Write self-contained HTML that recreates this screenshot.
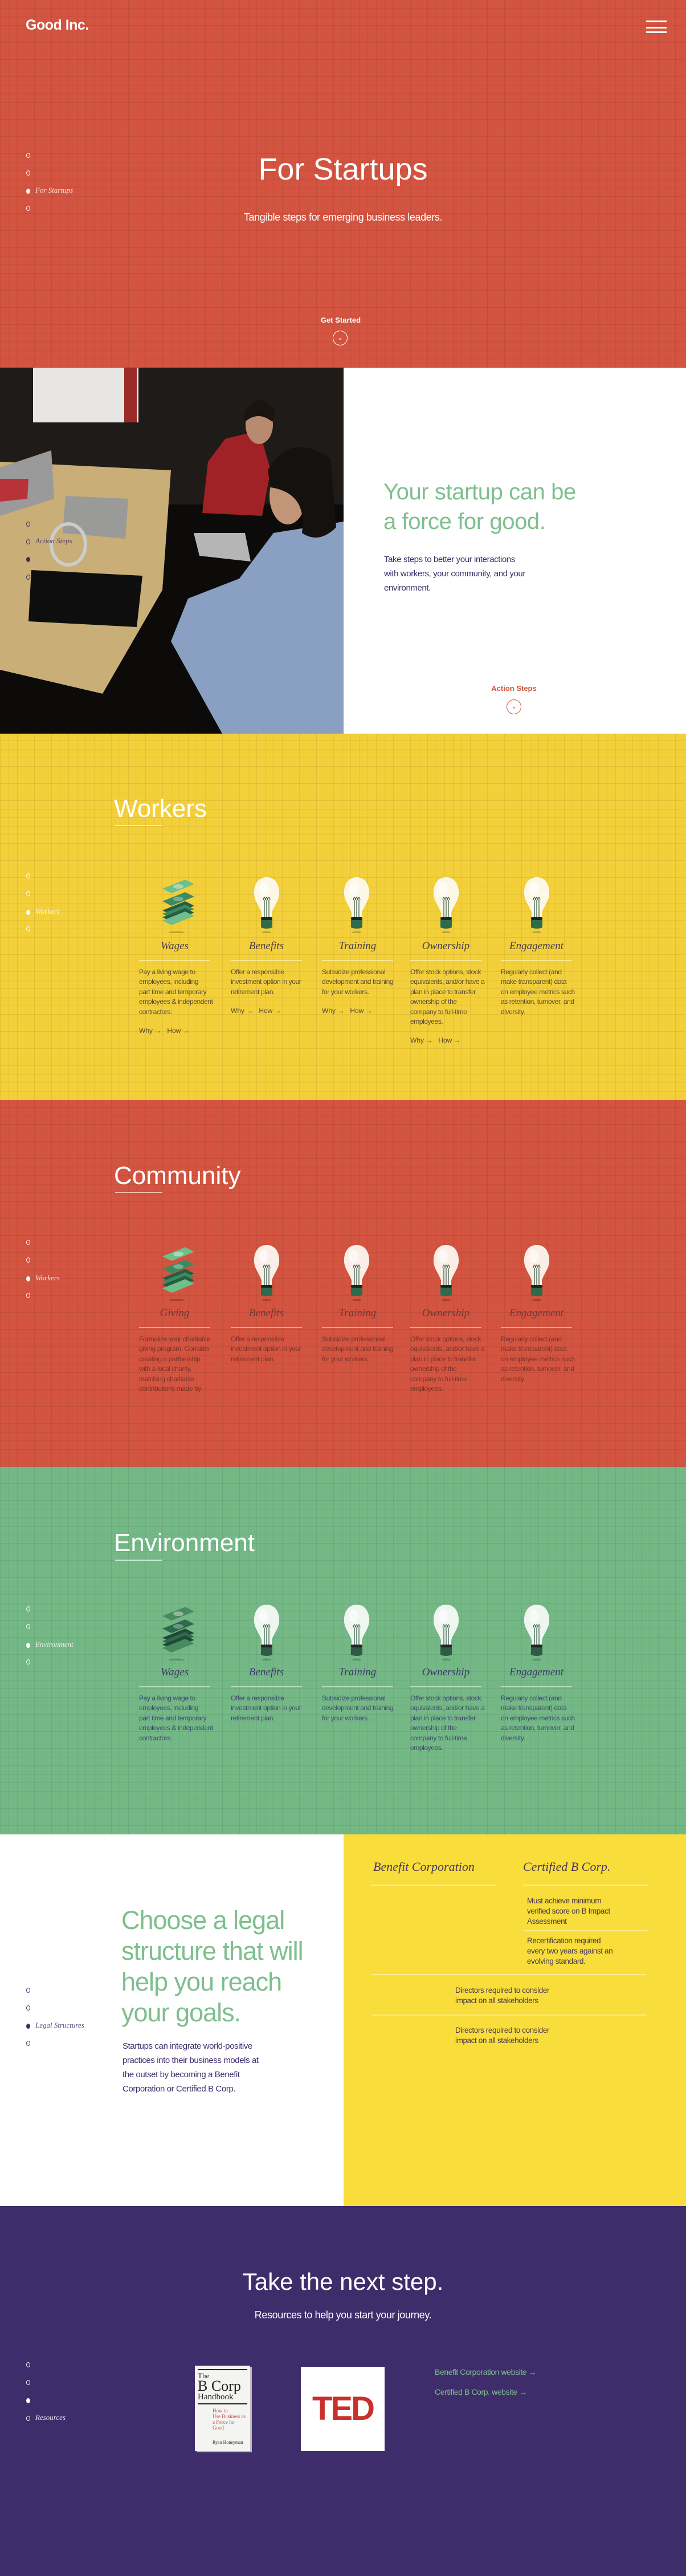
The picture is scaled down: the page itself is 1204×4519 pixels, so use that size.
<!DOCTYPE html>
<html><head><meta charset="utf-8">
<style>
*{margin:0;padding:0;box-sizing:border-box}
body{width:1204px;height:4519px;position:relative;overflow:hidden;font-family:"Liberation Sans",sans-serif;background:#fff}
.sec{position:absolute;left:0;width:1204px}
.grid{background-image:repeating-linear-gradient(0deg,rgba(0,0,0,.07) 0 1px,transparent 1px 15px),repeating-linear-gradient(90deg,rgba(0,0,0,.07) 0 1px,transparent 1px 15px)}
.abs{position:absolute}
.dot{position:absolute;left:46px;width:7px;height:9px;border-radius:50%;border:1.5px solid #fff}
.dot.f{background:#fff}
.navl{position:absolute;left:62px;font-family:"Liberation Serif",serif;font-style:italic;font-size:13px;color:#fff;opacity:.85}
.h1{font-family:"Liberation Sans",sans-serif;font-weight:300;color:#fff}
.col{position:absolute;width:125px}
.col h3{font-family:"Liberation Serif",serif;font-style:italic;font-weight:normal;font-size:19px;text-align:center;height:26px;line-height:26px}
.col .ln{height:2px;margin-top:11px}
.col p{font-size:12px;line-height:17.4px;margin-top:11px;white-space:nowrap;letter-spacing:-0.4px}
.col .wh{font-size:12px;margin-top:17px;white-space:nowrap}
.icon{position:absolute;width:70px;height:100px}
.circ{position:absolute;width:26px;height:26px;border-radius:50%;border:1.5px solid #fff;text-align:center;font-size:12px;line-height:22px}
.tight{letter-spacing:-0.4px;white-space:nowrap}
</style></head><body>

<svg width="0" height="0" style="position:absolute">
<defs>
<symbol id="bulb" viewBox="0 0 70 100">
<path d="M35 2 C18 2 12 18 13 32 C14 44 22 52 26 64 L26 74 L44 74 L44 64 C48 52 56 44 57 32 C58 18 52 2 35 2Z" fill="var(--glass)"/>
<ellipse cx="30" cy="22" rx="8" ry="12" fill="#fff" opacity=".6"/>
<path d="M31 72 L31 42 M35 72 L35 42 M39 72 L39 42 M29 42 q2 -10 4 0 q2 -10 4 0 q2 -10 4 0" stroke="#2f5a44" stroke-width="1.2" fill="none"/>
<rect x="25" y="72" width="20" height="5" rx="2" fill="#222"/>
<path d="M25 77 H45 V90 Q35 94 25 90Z" fill="var(--base)"/>
<ellipse cx="35" cy="99" rx="8" ry="2.5" fill="rgba(0,0,0,.2)"/>
</symbol>
<symbol id="money" viewBox="0 0 70 100">
<path d="M10 22 L50 6 L66 14 L26 30Z" fill="var(--m1)"/><ellipse cx="38" cy="18" rx="9" ry="4" fill="rgba(255,255,255,.4)"/>
<path d="M10 44 L50 28 L66 36 L26 52Z" fill="var(--m2)"/><ellipse cx="38" cy="40" rx="9" ry="4" fill="rgba(255,255,255,.3)"/>
<path d="M10 60 L50 44 L66 52 L26 68Z" fill="var(--m3)"/>
<path d="M10 66 L50 50 L66 58 L26 74Z" fill="var(--m2)"/>
<path d="M10 72 L50 56 L66 64 L26 80Z" fill="var(--m3)"/>
<path d="M10 78 L50 62 L66 70 L26 86Z" fill="var(--m1)"/>
<ellipse cx="35" cy="99" rx="14" ry="2.5" fill="rgba(0,0,0,.2)"/>
</symbol>
</defs></svg>

<!-- HERO -->
<section class="sec grid" style="top:0;height:645px;background-color:#d35440">
  <div class="abs" style="left:45px;top:30px;font-family:'Liberation Sans',sans-serif;font-weight:bold;font-size:25px;color:#fff;letter-spacing:-0.5px">Good Inc.</div>
  <div class="abs" style="left:1134px;top:36px;width:36px;height:22px;border-top:3px solid #fff;border-bottom:3px solid #fff"><div style="margin-top:7.5px;height:3px;background:#fff"></div></div>
  <div class="dot" style="top:268px"></div>
  <div class="dot" style="top:299px"></div>
  <div class="dot f" style="top:331px"></div>
  <div class="navl" style="top:326px">For Startups</div>
  <div class="dot" style="top:361px"></div>
  <div class="abs h1" style="left:0;width:1204px;text-align:center;top:262px;font-size:54px;line-height:70px">For Startups</div>
  <div class="abs tight" style="left:0;width:1204px;text-align:center;top:371px;font-size:18px;color:#fff">Tangible steps for emerging business leaders.</div>
  <div class="abs" style="left:0;width:1196px;text-align:center;top:554px;font-size:13px;font-weight:bold;color:#fff">Get Started</div>
  <div class="circ" style="left:584px;top:580px;color:#fff">&#8964;</div>
</section>

<!-- PHOTO -->
<section class="sec" style="top:645px;height:642px;background:#fff">
  <svg class="abs" style="left:0;top:0" width="603" height="642" viewBox="0 0 603 642">
    <rect width="603" height="642" fill="#0c0b0a"/>
    <rect width="603" height="240" fill="#1e1b19"/>
    <rect x="58" y="0" width="185" height="96" fill="#e8e6e2"/>
    <rect x="218" y="0" width="22" height="96" fill="#9a2a26"/>
    <polygon points="0,165 300,180 285,390 180,572 0,530" fill="#c9ae78"/>
    <polygon points="0,175 90,145 95,230 0,260" fill="#9a9a9a"/>
    <polygon points="0,195 50,195 48,230 0,235" fill="#b8323a"/>
    <polygon points="115,225 225,230 220,300 110,290" fill="#9a9a98"/>
    <polygon points="55,355 250,365 240,455 50,445" fill="#0e0e0e"/>
    <ellipse cx="120" cy="310" rx="30" ry="36" fill="none" stroke="#ccc" stroke-width="6"/>
    <polygon points="395,125 455,110 475,180 460,260 355,255 365,165" fill="#a02226"/>
    <polygon points="340,290 430,290 440,340 350,330" fill="#b5b5b5"/>
    <ellipse cx="455" cy="100" rx="24" ry="34" fill="#b88a70"/>
    <path d="M428 80 q25 -45 55 -5 l-5 20 q-25 -20 -48 0z" fill="#1a1410"/>
    <polygon points="480,290 603,270 603,642 390,642 300,480 330,405 420,370" fill="#8aa0c2"/>
    <polygon points="300,560 390,642 300,642" fill="#0c0b0a"/>
    <ellipse cx="505" cy="225" rx="32" ry="50" fill="#c29478"/>
    <path d="M470 180 q40 -70 110 -20 l10 120 q-30 30 -60 10 q10 -70 -55 -80z" fill="#15110e"/>
  </svg>
  <div class="dot" style="top:270px;border-color:#3f2d6b"></div>
  <div class="dot" style="top:301px;border-color:#3f2d6b"></div>
  <div class="navl" style="top:296px;color:#3f2d6b">Action Steps</div>
  <div class="dot f" style="top:332px;border-color:#3f2d6b;background:#3f2d6b"></div>
  <div class="dot" style="top:363px;border-color:#3f2d6b"></div>
  <div class="abs tight" style="left:673px;top:192px;font-size:40px;line-height:52px;color:#7dbf8e;font-weight:300">Your startup can be<br>a force for good.</div>
  <div class="abs tight" style="left:674px;top:324px;font-size:15px;line-height:25px;color:#3f2d6b">Take steps to better your interactions<br>with workers, your community, and your<br>environment.</div>
  <div class="abs" style="left:852px;width:100px;text-align:center;top:555px;font-size:13px;font-weight:bold;color:#d35440">Action Steps</div>
  <div class="circ" style="left:889px;top:582px;border-color:#d35440;color:#d35440">&#8964;</div>
</section>

<!-- WORKERS -->
<section class="sec grid" style="top:1287px;height:643px;background-color:#f3d03a;--glass:#fdf8e6;--base:#2f6a4c;--m1:#6fbf8a;--m2:#3d8a60;--m3:#275c43">
  <div class="dot" style="top:245px"></div>
  <div class="dot" style="top:276px"></div>
  <div class="dot f" style="top:309px"></div>
  <div class="navl" style="top:304px">Workers</div>
  <div class="dot" style="top:338px"></div>
  <div class="abs h1" style="left:200px;top:104px;font-size:44px;line-height:56px">Workers</div>
  <div class="abs" style="left:202px;top:160px;width:83px;height:2px;background:#fbe79a"></div>
  <svg class="icon" style="left:275px;top:250px"><use href="#money"/></svg>
  <svg class="icon" style="left:433px;top:250px"><use href="#bulb"/></svg>
  <svg class="icon" style="left:591px;top:250px"><use href="#bulb"/></svg>
  <svg class="icon" style="left:748px;top:250px"><use href="#bulb"/></svg>
  <svg class="icon" style="left:907px;top:250px"><use href="#bulb"/></svg>
  <div class="col" style="left:244px;top:360px;color:#5a4a3a"><h3 style="color:#4a3f50">Wages</h3><div class="ln" style="background:#fbe98c"></div><p>Pay a living wage to<br>employees, including<br>part time and temporary<br>employees &amp; independent<br>contractors.</p><div class="wh">Why &#8594; &nbsp; How &#8594;</div></div>
  <div class="col" style="left:405px;top:360px;color:#5a4a3a"><h3 style="color:#4a3f50">Benefits</h3><div class="ln" style="background:#fbe98c"></div><p>Offer a responsible<br>investment option in your<br>retirement plan.</p><div class="wh">Why &#8594; &nbsp; How &#8594;</div></div>
  <div class="col" style="left:565px;top:360px;color:#5a4a3a"><h3 style="color:#4a3f50">Training</h3><div class="ln" style="background:#fbe98c"></div><p>Subsidize professional<br>development and training<br>for your workers.</p><div class="wh">Why &#8594; &nbsp; How &#8594;</div></div>
  <div class="col" style="left:720px;top:360px;color:#5a4a3a"><h3 style="color:#4a3f50">Ownership</h3><div class="ln" style="background:#fbe98c"></div><p>Offer stock options, stock<br>equivalents, and/or have a<br>plan in place to transfer<br>ownership of the<br>company to full-time<br>employees.</p><div class="wh">Why &#8594; &nbsp; How &#8594;</div></div>
  <div class="col" style="left:879px;top:360px;color:#5a4a3a"><h3 style="color:#4a3f50">Engagement</h3><div class="ln" style="background:#fbe98c"></div><p>Regularly collect (and<br>make transparent) data<br>on employee metrics such<br>as retention, turnover, and<br>diversity.</p></div>
</section>

<!-- COMMUNITY -->
<section class="sec grid" style="top:1930px;height:643px;background-color:#d35440;--glass:#fbeee6;--base:#2f6a4c;--m1:#6fbf8a;--m2:#3d8a60;--m3:#275c43">
  <div class="dot" style="top:245px"></div>
  <div class="dot" style="top:276px"></div>
  <div class="dot f" style="top:309px"></div>
  <div class="navl" style="top:304px">Workers</div>
  <div class="dot" style="top:338px"></div>
  <div class="abs h1" style="left:200px;top:105px;font-size:44px;line-height:56px">Community</div>
  <div class="abs" style="left:202px;top:161px;width:83px;height:2px;background:#f4b8a8"></div>
  <svg class="icon" style="left:275px;top:252px"><use href="#money"/></svg>
  <svg class="icon" style="left:433px;top:252px"><use href="#bulb"/></svg>
  <svg class="icon" style="left:591px;top:252px"><use href="#bulb"/></svg>
  <svg class="icon" style="left:748px;top:252px"><use href="#bulb"/></svg>
  <svg class="icon" style="left:907px;top:252px"><use href="#bulb"/></svg>
  <div class="col" style="left:244px;top:361px;color:#7a3328"><h3 style="color:#6b3a3a">Giving</h3><div class="ln" style="background:#f0a08a"></div><p>Formalize your charitable<br>giving program. Consider<br>creating a partnership<br>with a local charity,<br>matching charitable<br>contributions made by</p></div>
  <div class="col" style="left:405px;top:361px;color:#7a3328"><h3 style="color:#6b3a3a">Benefits</h3><div class="ln" style="background:#f0a08a"></div><p>Offer a responsible<br>investment option in your<br>retirement plan.</p></div>
  <div class="col" style="left:565px;top:361px;color:#7a3328"><h3 style="color:#6b3a3a">Training</h3><div class="ln" style="background:#f0a08a"></div><p>Subsidize professional<br>development and training<br>for your workers.</p></div>
  <div class="col" style="left:720px;top:361px;color:#7a3328"><h3 style="color:#6b3a3a">Ownership</h3><div class="ln" style="background:#f0a08a"></div><p>Offer stock options, stock<br>equivalents, and/or have a<br>plan in place to transfer<br>ownership of the<br>company to full-time<br>employees.</p></div>
  <div class="col" style="left:879px;top:361px;color:#7a3328"><h3 style="color:#6b3a3a">Engagement</h3><div class="ln" style="background:#f0a08a"></div><p>Regularly collect (and<br>make transparent) data<br>on employee metrics such<br>as retention, turnover, and<br>diversity.</p></div>
</section>

<!-- ENVIRONMENT -->
<section class="sec grid" style="top:2573px;height:645px;background-color:#74b886;--glass:#eef6ef;--base:#2f5a44;--m1:#4a8a60;--m2:#2f6a4c;--m3:#1f4a36">
  <div class="dot" style="top:245px"></div>
  <div class="dot" style="top:276px"></div>
  <div class="dot f" style="top:309px"></div>
  <div class="navl" style="top:304px">Environment</div>
  <div class="dot" style="top:338px"></div>
  <div class="abs h1" style="left:200px;top:106px;font-size:44px;line-height:56px">Environment</div>
  <div class="abs" style="left:202px;top:163px;width:83px;height:2px;background:#cfe8d6"></div>
  <svg class="icon" style="left:275px;top:240px"><use href="#money"/></svg>
  <svg class="icon" style="left:433px;top:240px"><use href="#bulb"/></svg>
  <svg class="icon" style="left:591px;top:240px"><use href="#bulb"/></svg>
  <svg class="icon" style="left:748px;top:240px"><use href="#bulb"/></svg>
  <svg class="icon" style="left:907px;top:240px"><use href="#bulb"/></svg>
  <div class="col" style="left:244px;top:348px;color:#3f4a70"><h3 style="color:#3f3a6b">Wages</h3><div class="ln" style="background:#b8dcc0"></div><p>Pay a living wage to<br>employees, including<br>part time and temporary<br>employees &amp; independent<br>contractors.</p></div>
  <div class="col" style="left:405px;top:348px;color:#3f4a70"><h3 style="color:#3f3a6b">Benefits</h3><div class="ln" style="background:#b8dcc0"></div><p>Offer a responsible<br>investment option in your<br>retirement plan.</p></div>
  <div class="col" style="left:565px;top:348px;color:#3f4a70"><h3 style="color:#3f3a6b">Training</h3><div class="ln" style="background:#b8dcc0"></div><p>Subsidize professional<br>development and training<br>for your workers.</p></div>
  <div class="col" style="left:720px;top:348px;color:#3f4a70"><h3 style="color:#3f3a6b">Ownership</h3><div class="ln" style="background:#b8dcc0"></div><p>Offer stock options, stock<br>equivalents, and/or have a<br>plan in place to transfer<br>ownership of the<br>company to full-time<br>employees.</p></div>
  <div class="col" style="left:879px;top:348px;color:#3f4a70"><h3 style="color:#3f3a6b">Engagement</h3><div class="ln" style="background:#b8dcc0"></div><p>Regularly collect (and<br>make transparent) data<br>on employee metrics such<br>as retention, turnover, and<br>diversity.</p></div>
</section>

<!-- LEGAL -->
<section class="sec" style="top:3218px;height:652px;background:#fff">
  <div class="dot" style="top:269px;border-color:#3f2d6b"></div>
  <div class="dot" style="top:300px;border-color:#3f2d6b"></div>
  <div class="dot f" style="top:332px;border-color:#3f2d6b;background:#3f2d6b"></div>
  <div class="navl" style="top:327px;color:#3f2d6b">Legal Structures</div>
  <div class="dot" style="top:362px;border-color:#3f2d6b"></div>
  <div class="abs tight" style="left:213px;top:124px;font-size:45px;line-height:54px;color:#7dbf8e;font-weight:300;letter-spacing:-1px">Choose a legal<br>structure that will<br>help you reach<br>your goals.</div>
  <div class="abs tight" style="left:215px;top:359px;font-size:15px;line-height:25px;color:#3f2d6b">Startups can integrate world-positive<br>practices into their business models at<br>the outset by becoming a Benefit<br>Corporation or Certified B Corp.</div>
  <div class="abs" style="left:603px;top:0;width:601px;height:652px;background:#f9dd3b">
    <div class="abs" style="left:52px;top:44px;font-family:'Liberation Serif',serif;font-style:italic;font-size:22px;color:#4a3a5a">Benefit Corporation</div>
    <div class="abs" style="left:315px;top:44px;font-family:'Liberation Serif',serif;font-style:italic;font-size:22px;color:#4a3a5a">Certified B Corp.</div>
    <div class="abs" style="left:47px;top:88px;width:220px;height:2px;background:#fcec8c"></div>
    <div class="abs" style="left:315px;top:88px;width:220px;height:2px;background:#fcec8c"></div>
    <div class="abs tight" style="left:322px;top:108px;font-size:13.5px;line-height:18px;color:#4a3a4a">Must achieve minimum<br>verified score on B Impact<br>Assessment</div>
    <div class="abs" style="left:315px;top:168px;width:220px;height:2px;background:#fcec8c"></div>
    <div class="abs tight" style="left:322px;top:178px;font-size:13.5px;line-height:18px;color:#4a3a4a">Recertification required<br>every two years against an<br>evolving standard.</div>
    <div class="abs" style="left:49px;top:245px;width:482px;height:2px;background:#fcec8c"></div>
    <div class="abs tight" style="left:196px;top:265px;font-size:13.5px;line-height:18px;color:#4a3a4a">Directors required to consider<br>impact on all stakeholders</div>
    <div class="abs" style="left:49px;top:316px;width:482px;height:2px;background:#fcec8c"></div>
    <div class="abs tight" style="left:196px;top:335px;font-size:13.5px;line-height:18px;color:#4a3a4a">Directors required to consider<br>impact on all stakeholders</div>
  </div>
</section>

<!-- RESOURCES -->
<section class="sec" style="top:3870px;height:649px;background:#3f2d6b">
  <div class="dot" style="top:274px"></div>
  <div class="dot" style="top:305px"></div>
  <div class="dot f" style="top:337px"></div>
  <div class="dot" style="top:368px"></div>
  <div class="navl" style="top:363px">Resources</div>
  <div class="abs h1" style="left:0;width:1204px;text-align:center;top:106px;font-size:42px;line-height:54px">Take the next step.</div>
  <div class="abs tight" style="left:0;width:1204px;text-align:center;top:181px;font-size:18px;color:#fff">Resources to help you start your journey.</div>
  <div class="abs" style="left:342px;top:280px;width:97px;height:150px;background:#f4f4f2;box-shadow:3px 2px 0 #bbb;font-family:'Liberation Serif',serif;color:#222;padding:6px 5px">
    <div style="border-top:2px solid #222;padding-top:3px;font-size:13px;line-height:13px">The</div>
    <div style="font-size:26px;line-height:24px">B Corp</div>
    <div style="font-size:15px;line-height:15px;border-bottom:2px solid #222;padding-bottom:3px">Handbook</div>
    <div style="font-size:9px;line-height:10px;color:#c0504a;margin:6px 0 0 26px">How to<br>Use Business as<br>a Force for Good</div>
    <div style="font-size:8px;margin:16px 0 0 26px">Ryan Honeyman</div>
  </div>
  <div class="abs" style="left:528px;top:282px;width:147px;height:148px;background:#fff;color:#c8312b;font-family:'Liberation Sans',sans-serif;font-weight:bold;font-size:58px;text-align:center;line-height:148px;letter-spacing:-3px">TED</div>
  <div class="abs tight" style="left:763px;top:283px;font-size:14px;color:#7dbf8e">Benefit Corporation website &#8594;</div>
  <div class="abs tight" style="left:763px;top:318px;font-size:14px;color:#7dbf8e">Certified B Corp. website &#8594;</div>
</section>
</body></html>
